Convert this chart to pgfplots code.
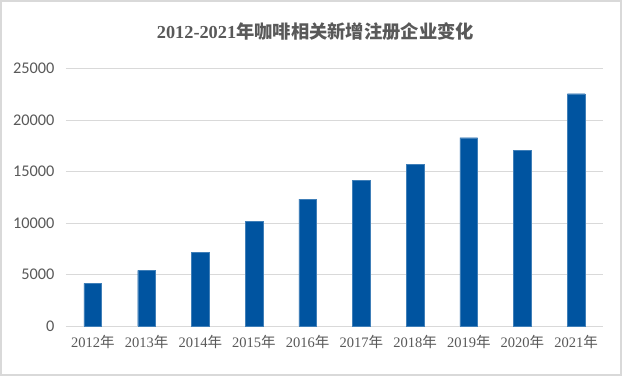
\documentclass[border=0pt]{standalone}
\usepackage{fontspec}
\usepackage{pgfplots}
\pgfplotsset{compat=1.18}
\setmainfont{Liberation Serif}
\newfontfamily\cjk{Noto Sans CJK SC}
\newfontfamily\calfont{Carlito}
\definecolor{barblue}{RGB}{0,84,160}
\definecolor{txt}{RGB}{89,89,89}
\definecolor{gridc}{RGB}{217,217,217}
\begin{document}
\begin{tikzpicture}[x=1pt,y=1pt]
\useasboundingbox (0,0) rectangle (622,376);
\fill[white] (0,0) rectangle (622,376);
\draw[gridc, line width=2pt] (1,1) rectangle (621,375);
\node[font=\fontsize{18.3}{20}\selectfont\bfseries, text=txt] at (315.5,344) {2012-2021{\cjk\bfseries 年咖啡相关新增注册企业变化}};
\begin{axis}[
  at={(66pt,50pt)}, anchor=south west,
  scale only axis, width=537pt, height=257.5pt,
  xmin=-0.5, xmax=9.5, ymin=0, ymax=25000,
  ytick={0,5000,10000,15000,20000,25000},
  xtick=data,
  xticklabels={2012{\cjk 年},2013{\cjk 年},2014{\cjk 年},2015{\cjk 年},2016{\cjk 年},2017{\cjk 年},2018{\cjk 年},2019{\cjk 年},2020{\cjk 年},2021{\cjk 年}},
  axis line style={draw=none},
  major tick length=0pt,
  ymajorgrids, grid style={gridc, line width=1pt},
  /pgf/number format/assume math mode=true,
  /pgf/number format/1000 sep={},
  yticklabel style={font=\calfont\fontsize{16.3}{17}\selectfont, text=txt, xshift=-8pt},
  xticklabel style={font=\fontsize{14.5}{16}\selectfont, text=txt, yshift=-6pt},
  scaled y ticks=false,
  clip=false,
]
\addplot[ybar, bar width=17.7pt, fill=barblue, draw=barblue!75!white, line width=0.4pt]
  coordinates {(0,4150) (1,5410) (2,7180) (3,10160) (4,12330) (5,14170) (6,15700) (7,18280) (8,17050) (9,22550)};
\end{axis}
\end{tikzpicture}
\end{document}
